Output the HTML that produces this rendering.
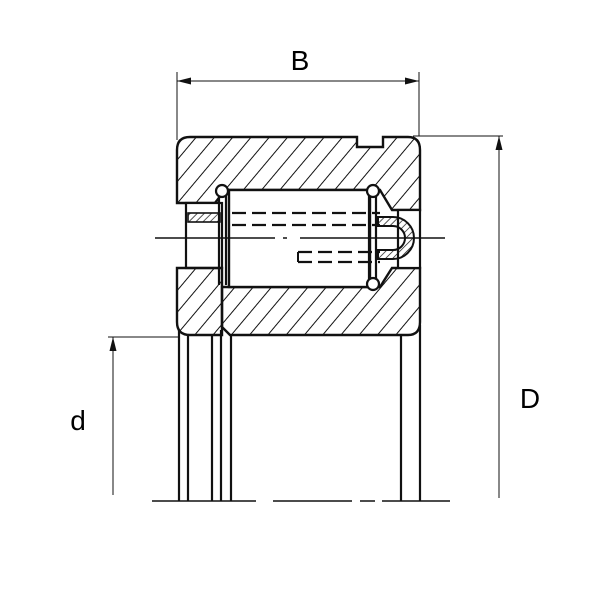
<!DOCTYPE html>
<html><head><style>
html,body{margin:0;padding:0;background:#fff;width:600px;height:600px;overflow:hidden}
svg{display:block}
text{font-family:"Liberation Sans",sans-serif;fill:#000}
</style></head><body>
<svg width="600" height="600" viewBox="0 0 600 600" xmlns="http://www.w3.org/2000/svg">
<defs>
<pattern id="h" patternUnits="userSpaceOnUse" width="14" height="14" patternTransform="rotate(40)">
<line x1="0" y1="0" x2="0" y2="14" stroke="#111" stroke-width="2"/>
</pattern>
<pattern id="hs" patternUnits="userSpaceOnUse" width="5" height="5" patternTransform="rotate(45)">
<line x1="0" y1="0" x2="0" y2="5" stroke="#111" stroke-width="1.4"/>
</pattern>
</defs>
<g stroke="#111" fill="none">
<line x1="177" y1="72" x2="177" y2="140" stroke-width="1"/>
<line x1="419" y1="72" x2="419" y2="136" stroke-width="1"/>
<line x1="177" y1="81" x2="419" y2="81" stroke-width="1"/>
<line x1="413" y1="136" x2="503" y2="136" stroke-width="1"/>
<line x1="499" y1="136" x2="499" y2="498" stroke-width="1"/>
<line x1="108" y1="337" x2="180" y2="337" stroke-width="1"/>
<line x1="113" y1="337" x2="113" y2="495" stroke-width="1"/>
<g stroke-width="2.2">
<line x1="179" y1="330" x2="179" y2="501"/>
<line x1="188" y1="335" x2="188" y2="501"/>
<line x1="212" y1="335" x2="212" y2="501"/>
<line x1="221" y1="330" x2="221" y2="501"/>
<line x1="231" y1="335" x2="231" y2="501"/>
<line x1="401" y1="335" x2="401" y2="501"/>
<line x1="420" y1="325" x2="420" y2="501"/>
</g>
<path d="M152 501H256M273 501H352M360 501H375M382 501H450" stroke-width="1.5"/>
<path d="M190 137H357V147H383V137H408Q420 137 420 150V210H392L380 190H225L215 203H177V150Q177 137 190 137Z" fill="url(#h)" stroke-width="2.4"/>
<rect x="186" y="203" width="36" height="65" fill="#fff" stroke-width="2.2"/>
<rect x="188" y="213" width="32" height="9" fill="url(#hs)" stroke-width="1.6"/>
<path d="M177 268H222V335H190Q177 335 177 322Z" fill="url(#h)" stroke-width="2.4"/>
<path d="M222 287H380L392 268H420V322Q420 335 408 335H230L222 327Z" fill="url(#h)" stroke-width="2.4"/>
<rect x="398" y="210" width="22" height="58" fill="#fff" stroke-width="2.2"/>
<path d="M378 217H393A21 21 0 0 1 393 259H378V250H393A12 12 0 0 0 393 226H378Z" fill="url(#hs)" stroke-width="2"/>
<rect x="229" y="190" width="141" height="97" fill="#fff" stroke-width="2.4"/>
<line x1="219" y1="192" x2="219" y2="285" stroke-width="2.2"/>
<line x1="226" y1="192" x2="226" y2="285" stroke-width="2.2"/>
<line x1="369" y1="192" x2="369" y2="285" stroke-width="2.2"/>
<line x1="376" y1="192" x2="376" y2="285" stroke-width="2.2"/>
<circle cx="222" cy="191" r="6" fill="#fff" stroke-width="2.2"/>
<circle cx="373" cy="191" r="6" fill="#fff" stroke-width="2.2"/>
<circle cx="373" cy="284" r="6" fill="#fff" stroke-width="2.2"/>
<g stroke-width="2.2" stroke-dasharray="14,6">
<line x1="232" y1="213" x2="380" y2="213"/>
<line x1="232" y1="225" x2="380" y2="225"/>
<line x1="298" y1="252" x2="380" y2="252"/>
<line x1="298" y1="262" x2="380" y2="262"/>
</g>
<line x1="298" y1="252" x2="298" y2="262" stroke-width="2"/>
<path d="M155 238H275M283 238H287M300 238H445" stroke-width="1.6"/>
</g>
<g fill="#111">
<polygon points="177,81 191,77.5 191,84.5"/>
<polygon points="419,81 405,77.5 405,84.5"/>
<polygon points="499,136 495.5,150 502.5,150"/>
<polygon points="113,337 109.5,351 116.5,351"/>
</g>
<text x="300" y="70" font-size="28" text-anchor="middle">B</text>
<text x="530" y="408" font-size="28" text-anchor="middle">D</text>
<text x="78" y="430" font-size="28" text-anchor="middle">d</text>
</svg>
</body></html>
